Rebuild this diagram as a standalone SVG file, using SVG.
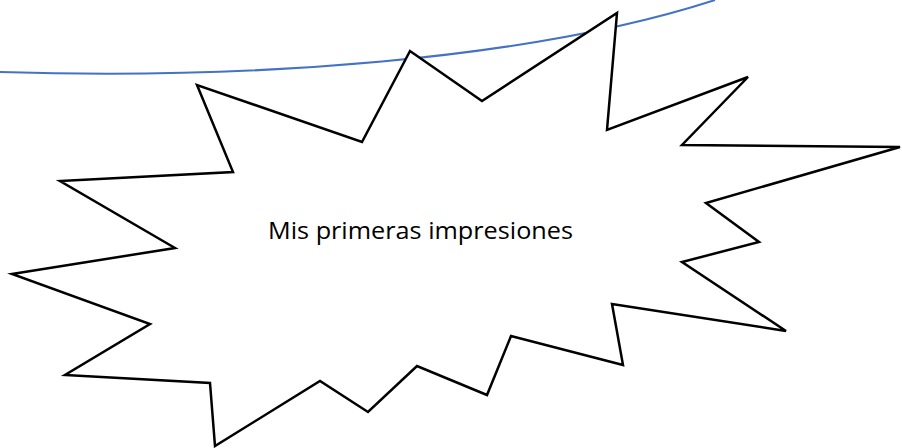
<svg xmlns="http://www.w3.org/2000/svg" width="902" height="448" viewBox="0 0 902 448">
<style>
.burst{fill:#ffffff;stroke:#000000;stroke-width:2.5;stroke-linejoin:miter}
.curve{fill:none;stroke:#4472C4;stroke-width:2}
.lbl{font-family:"Open Sans","Liberation Sans",sans-serif;font-size:23px;fill:#000000}
</style>
<rect width="902" height="448" fill="#ffffff"/>
<g id="connectors">
<path class="curve" d="M0,72 C250,80 530,60 715,0"/>
</g>
<g id="burst">
<polygon class="burst" points="197,85 233,172 60,181 175,248 12,274 150,324 65,375 210,383 215,446 320,381 368,412 417,366 487,395 511,336 623,365 612,304 786,331 682,262 759,242 706,203 900,147 682,145 748,77 607,130 617,13 482,101 410,51 362,142"/>
<text class="lbl" x="420.5" y="239" text-anchor="middle" textLength="305" lengthAdjust="spacingAndGlyphs">Mis primeras impresiones</text>
</g>
</svg>
